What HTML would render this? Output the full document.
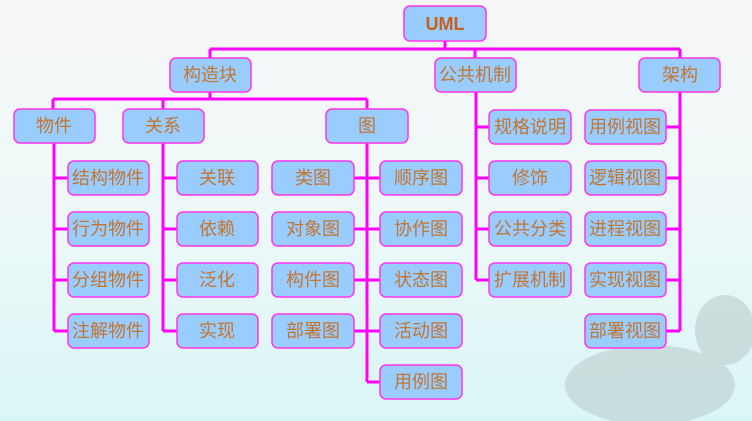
<!DOCTYPE html>
<html><head><meta charset="utf-8"><style>
html,body{margin:0;padding:0;}
body{width:752px;height:421px;overflow:hidden;background:linear-gradient(#f7f7f7 0%,#eef8f8 50%,#d9f6f6 100%);}
svg{display:block}
text{font-family:"Liberation Sans","Noto Sans CJK SC",sans-serif;font-size:18px;fill:#c4752e;text-anchor:middle;dominant-baseline:central}
</style></head><body>
<svg width="752" height="421" viewBox="0 0 752 421">
<g fill="#9aa4a4" opacity="0.3">
<ellipse cx="650" cy="385" rx="85" ry="40"/>
<ellipse cx="725" cy="330" rx="30" ry="35"/>
</g>
<g stroke="#ff00ff" stroke-width="3" fill="none">
<path d="M445 41V49M210 49H680M210 49V58M475 49V58M680 49V58"/>
<path d="M210 92V99M53 99H367M53 99V109M163 99V109M367 99V109"/>
<path d="M54 143V331M54 178H68M54 229H68M54 280H68M54 331H68"/>
<path d="M163 143V331M163 178H177M163 229H177M163 280H177M163 331H177"/>
<path d="M367 143V382M354 178H380M354 229H380M354 280H380M354 331H380M367 382H380"/>
<path d="M476 92V280M476 127H489M476 178H489M476 229H489M476 280H489"/>
<path d="M680 92V331M666 127H680M666 178H680M666 229H680M666 280H680M666 331H680"/>
</g>
<g fill="#99ccff" stroke="#ff33ee" stroke-width="1.5">
<rect x="404" y="6" width="82" height="35" rx="6"/>
<rect x="170" y="58" width="81" height="34" rx="6"/>
<rect x="435" y="58" width="81" height="34" rx="6"/>
<rect x="639" y="58" width="81" height="34" rx="6"/>
<rect x="14" y="109" width="81" height="34" rx="6"/>
<rect x="123" y="109" width="81" height="34" rx="6"/>
<rect x="326" y="109" width="82" height="34" rx="6"/>
<rect x="68" y="161" width="81" height="34" rx="6"/>
<rect x="68" y="212" width="81" height="34" rx="6"/>
<rect x="68" y="263" width="81" height="34" rx="6"/>
<rect x="68" y="314" width="81" height="34" rx="6"/>
<rect x="177" y="161" width="81" height="34" rx="6"/>
<rect x="177" y="212" width="81" height="34" rx="6"/>
<rect x="177" y="263" width="81" height="34" rx="6"/>
<rect x="177" y="314" width="81" height="34" rx="6"/>
<rect x="272" y="161" width="82" height="34" rx="6"/>
<rect x="272" y="212" width="82" height="34" rx="6"/>
<rect x="272" y="263" width="82" height="34" rx="6"/>
<rect x="272" y="314" width="82" height="34" rx="6"/>
<rect x="380" y="161" width="82" height="34" rx="6"/>
<rect x="380" y="212" width="82" height="34" rx="6"/>
<rect x="380" y="263" width="82" height="34" rx="6"/>
<rect x="380" y="314" width="82" height="34" rx="6"/>
<rect x="380" y="365" width="82" height="34" rx="6"/>
<rect x="489" y="110" width="82" height="34" rx="6"/>
<rect x="489" y="161" width="82" height="34" rx="6"/>
<rect x="489" y="212" width="82" height="34" rx="6"/>
<rect x="489" y="263" width="82" height="34" rx="6"/>
<rect x="585" y="110" width="81" height="34" rx="6"/>
<rect x="585" y="161" width="81" height="34" rx="6"/>
<rect x="585" y="212" width="81" height="34" rx="6"/>
<rect x="585" y="263" width="81" height="34" rx="6"/>
<rect x="585" y="314" width="81" height="34" rx="6"/>
</g>
<text x="445" y="24" style="font-weight:bold;fill:#c8601a">UML</text>
<text x="210" y="75">构造块</text>
<text x="475" y="75">公共机制</text>
<text x="680" y="75">架构</text>
<text x="54" y="126">物件</text>
<text x="163" y="126">关系</text>
<text x="367" y="126">图</text>
<text x="108" y="178">结构物件</text>
<text x="108" y="229">行为物件</text>
<text x="108" y="280">分组物件</text>
<text x="108" y="331">注解物件</text>
<text x="217" y="178">关联</text>
<text x="217" y="229">依赖</text>
<text x="217" y="280">泛化</text>
<text x="217" y="331">实现</text>
<text x="313" y="178">类图</text>
<text x="313" y="229">对象图</text>
<text x="313" y="280">构件图</text>
<text x="313" y="331">部署图</text>
<text x="421" y="178">顺序图</text>
<text x="421" y="229">协作图</text>
<text x="421" y="280">状态图</text>
<text x="421" y="331">活动图</text>
<text x="421" y="382">用例图</text>
<text x="530" y="127">规格说明</text>
<text x="530" y="178">修饰</text>
<text x="530" y="229">公共分类</text>
<text x="530" y="280">扩展机制</text>
<text x="625" y="127">用例视图</text>
<text x="625" y="178">逻辑视图</text>
<text x="625" y="229">进程视图</text>
<text x="625" y="280">实现视图</text>
<text x="625" y="331">部署视图</text>
</svg>
</body></html>
